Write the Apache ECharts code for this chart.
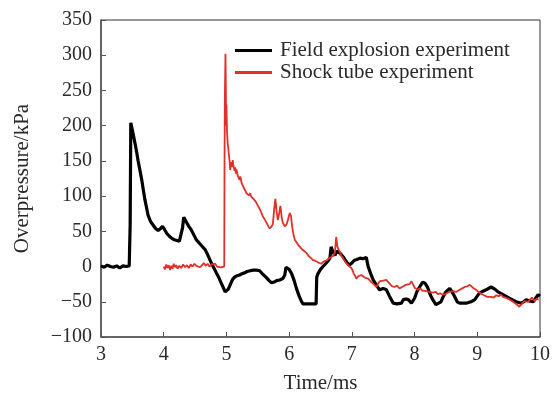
<!DOCTYPE html>
<html>
<head>
<meta charset="utf-8">
<script src="https://cdn.jsdelivr.net/npm/echarts@6/dist/echarts.min.js"></script>
<style>
  html, body { margin: 0; padding: 0; background: #fff; }
  #chart { width: 555px; height: 394px; }
</style>
</head>
<body>
<div id="chart"></div>
<script>
// Overpressure histories: [time in ms, overpressure in kPa]
const seriesNames = ['Field explosion experiment', 'Shock tube experiment'];

const fieldExplosion = [
  [3.00,1],[3.05,-1],[3.10,2],[3.15,0],[3.20,-1],[3.25,1],[3.30,-2],[3.35,1],[3.40,0],[3.45,1],
  [3.465,60],[3.475,204],[3.49,198],[3.52,185],[3.54,176],[3.57,162],[3.59,151],[3.62,137],[3.65,123],
  [3.68,106],[3.70,95],[3.73,82],[3.75,73],[3.79,64],[3.83,59],[3.87,54],[3.91,51],[3.95,54],[3.98,57],
  [4.01,53],[4.05,47],[4.09,43],[4.13,40],[4.17,38],[4.21,37],[4.25,36],[4.28,35],[4.30,55],[4.32,70],
  [4.35,65],[4.40,57],[4.44,52],[4.48,45],[4.52,38],[4.55,35],[4.59,31],[4.63,27],[4.66,24],[4.70,17],
  [4.73,11],[4.76,5],[4.80,-2],[4.84,-9],[4.87,-14],[4.91,-22],[4.95,-30],[4.98,-36],[5.00,-37],
  [5.03,-32],[5.07,-24],[5.10,-18],[5.13,-15],[5.17,-13],[5.21,-12],[5.25,-10],[5.29,-9],[5.33,-7],
  [5.38,-6],[5.43,-5],[5.48,-5],[5.53,-6],[5.58,-11],[5.63,-15],[5.68,-20],[5.72,-23],[5.76,-22],
  [5.80,-20],[5.85,-19],[5.90,-17],[5.93,-12],[5.95,-1],[5.97,0],[6.00,-4],[6.04,-10],[6.08,-20],
  [6.12,-32],[6.16,-42],[6.20,-50],[6.22,-53],[6.30,-53],[6.36,-53],[6.43,-53],[6.44,-15],[6.46,-10],
  [6.50,-4],[6.54,0],[6.58,4],[6.62,8],[6.65,12],[6.67,28],[6.70,20],[6.73,16],[6.76,22],[6.78,24],
  [6.81,19],[6.86,14],[6.91,7],[6.96,2],[7.00,5],[7.04,9],[7.08,10],[7.13,12],[7.18,11],[7.23,13],
  [7.26,0],[7.30,-10],[7.34,-19],[7.39,-26],[7.44,-33],[7.50,-31],[7.55,-33],[7.60,-42],[7.66,-52],
  [7.72,-53],[7.79,-52],[7.82,-47],[7.86,-46],[7.90,-47],[7.95,-52],[8.00,-45],[8.04,-35],[8.08,-29],
  [8.13,-22],[8.17,-24],[8.21,-30],[8.25,-40],[8.29,-47],[8.34,-54],[8.42,-50],[8.46,-42],[8.50,-36],
  [8.56,-31],[8.60,-36],[8.64,-43],[8.68,-50],[8.72,-52],[8.82,-52],[8.90,-50],[8.96,-47],[9.03,-38],
  [9.09,-35],[9.14,-33],[9.22,-29],[9.28,-32],[9.33,-36],[9.41,-40],[9.51,-45],[9.58,-48],[9.62,-50],
  [9.70,-52],[9.74,-50],[9.78,-47],[9.84,-49],[9.89,-50],[9.93,-45],[9.97,-40],[10.0,-42]
];

const shockTube = [
  [4.00,0],[4.02,-4],[4.04,3],[4.06,-2],[4.08,2],[4.10,-5],[4.12,1],[4.14,-3],[4.16,4],[4.18,-1],
  [4.20,2],[4.22,-3],[4.25,1],[4.28,-2],[4.31,3],[4.34,-1],[4.37,2],[4.40,-2],[4.43,3],[4.46,0],
  [4.49,4],[4.52,1],[4.55,3],[4.58,-1],[4.61,2],[4.64,5],[4.67,1],[4.70,4],[4.73,0],[4.76,3],
  [4.79,1],[4.82,4],[4.85,0],[4.88,2],[4.91,-1],[4.94,1],[4.965,0],[4.97,150],[4.975,240],[4.985,302],
  [4.99,260],[4.995,200],[5.00,230],[5.01,190],[5.02,175],[5.03,168],[5.04,158],[5.05,150],[5.06,137],
  [5.07,145],[5.08,148],[5.09,141],[5.10,151],[5.11,144],[5.12,140],[5.13,136],[5.14,141],[5.15,132],
  [5.16,138],[5.17,136],[5.18,129],[5.19,127],[5.20,131],[5.21,123],[5.22,128],[5.23,125],[5.24,119],
  [5.25,117],[5.26,120],[5.27,113],[5.29,111],[5.30,108],[5.31,110],[5.32,104],[5.34,106],[5.35,102],
  [5.36,101],[5.38,104],[5.39,100],[5.40,99],[5.42,98],[5.43,96],[5.45,95],[5.46,93],[5.47,94],
  [5.48,90],[5.50,88],[5.51,85],[5.53,83],[5.54,80],[5.55,79],[5.56,76],[5.57,75],[5.58,71],[5.60,70],
  [5.61,67],[5.63,65],[5.64,62],[5.65,61],[5.67,57],[5.68,58],[5.69,54],[5.71,56],[5.72,57],[5.73,55],
  [5.74,60],[5.76,80],[5.78,96],[5.79,88],[5.80,78],[5.82,66],[5.84,75],[5.86,86],[5.87,80],[5.88,70],
  [5.90,62],[5.91,64],[5.93,57],[5.94,59],[5.96,60],[5.98,66],[5.99,68],[6.01,76],[6.03,72],[6.04,63],
  [6.05,56],[6.06,50],[6.07,45],[6.09,38],[6.10,40],[6.12,34],[6.14,33],[6.15,30],[6.17,28],[6.18,29],
  [6.20,25],[6.22,26],[6.24,22],[6.26,21],[6.28,19],[6.30,18],[6.31,15],[6.33,14],[6.35,12],[6.37,13],
  [6.38,9],[6.40,10],[6.42,8],[6.44,9],[6.46,6],[6.49,7],[6.51,4],[6.53,5],[6.55,7],[6.57,8],[6.60,9],
  [6.62,11],[6.64,12],[6.67,14],[6.70,15],[6.73,20],[6.75,42],[6.77,28],[6.79,30],[6.81,20],[6.83,16],
  [6.85,14],[6.87,10],[6.89,8],[6.91,5],[6.93,6],[6.95,1],[6.97,2],[6.99,-2],[7.01,-5],[7.03,-10],
  [7.05,-13],[7.07,-17],[7.10,-14],[7.12,-15],[7.15,-12],[7.18,-14],[7.21,-16],[7.23,-18],[7.26,-17],
  [7.28,-19],[7.31,-22],[7.33,-24],[7.36,-26],[7.39,-29],[7.42,-24],[7.44,-21],[7.47,-22],[7.50,-20],
  [7.53,-21],[7.55,-19],[7.58,-22],[7.60,-24],[7.64,-28],[7.68,-29],[7.72,-27],[7.76,-31],[7.79,-29],
  [7.82,-28],[7.86,-26],[7.89,-24],[7.92,-25],[7.95,-21],[7.98,-26],[8.00,-30],[8.03,-31],[8.05,-33],
  [8.09,-31],[8.12,-34],[8.15,-33],[8.18,-35],[8.21,-34],[8.24,-36],[8.27,-35],[8.30,-37],[8.34,-36],
  [8.37,-39],[8.41,-38],[8.45,-40],[8.49,-39],[8.52,-38],[8.55,-36],[8.58,-37],[8.62,-35],[8.66,-36],
  [8.69,-34],[8.72,-33],[8.76,-31],[8.80,-29],[8.84,-28],[8.88,-26],[8.91,-28],[8.93,-30],[8.96,-31],
  [8.98,-33],[9.02,-36],[9.05,-38],[9.09,-40],[9.12,-42],[9.16,-43],[9.19,-45],[9.22,-43],[9.26,-44],
  [9.30,-41],[9.34,-42],[9.38,-40],[9.41,-43],[9.45,-44],[9.48,-46],[9.52,-47],[9.57,-50],[9.60,-52],
  [9.63,-54],[9.67,-57],[9.70,-54],[9.72,-52],[9.75,-49],[9.78,-47],[9.81,-50],[9.84,-48],[9.87,-44],
  [9.89,-45],[9.92,-49],[9.94,-46],[9.96,-44],[9.98,-47]
];

// Axis ranges and tick spacing
const xRange = [3, 10, 1];
const yRange = [-100, 350, 50];

const fontFamily = '"Liberation Serif", "DejaVu Serif", serif';
const textColor = '#2a2a2a';
const axisColor = '#555';

const chart = echarts.init(document.getElementById('chart'), null, { renderer: 'canvas' });

chart.setOption({
  animation: false,
  backgroundColor: '#fff',
  grid: {
    left: 101, right: 15, top: 20, bottom: 57,
    containLabel: false, outerBoundsMode: 'none',
    show: true, borderColor: '#333', borderWidth: 1, backgroundColor: 'transparent'
  },
  legend: {
    orient: 'vertical',
    left: 235, top: 40, padding: 0,
    itemWidth: 37, itemHeight: 3, itemGap: 1,
    icon: 'rect',
    textStyle: { fontFamily, fontSize: 21, color: textColor, lineHeight: 21, padding: [0, 0, 0, 3] },
    data: seriesNames
  },
  xAxis: {
    type: 'value',
    min: xRange[0], max: xRange[1], interval: xRange[2],
    name: 'Time/ms', nameLocation: 'middle', nameGap: 36,
    nameTextStyle: { fontFamily, fontSize: 21, color: textColor },
    axisLine: { show: true, onZero: false, lineStyle: { color: axisColor, width: 1.5 } },
    axisTick: { show: true, inside: true, length: 5, lineStyle: { color: axisColor, width: 1 } },
    axisLabel: { fontFamily, fontSize: 20, color: textColor, margin: 8 },
    splitLine: { show: false }
  },
  yAxis: {
    type: 'value',
    min: yRange[0], max: yRange[1], interval: yRange[2],
    name: 'Overpressure/kPa', nameLocation: 'middle', nameGap: 68, nameRotate: 90,
    nameTextStyle: { fontFamily, fontSize: 21, color: textColor },
    axisLine: { show: true, onZero: false, lineStyle: { color: axisColor, width: 1.5 } },
    axisTick: { show: true, inside: true, length: 5, lineStyle: { color: axisColor, width: 1 } },
    axisLabel: {
      fontFamily, fontSize: 20, color: textColor, margin: 9,
      formatter: v => String(v).replace('-', '\u2212')
    },
    splitLine: { show: false }
  },
  series: [
    {
      name: seriesNames[0], type: 'line', data: fieldExplosion,
      showSymbol: false, symbol: 'none',
      lineStyle: { color: '#000', width: 3.2 }, itemStyle: { color: '#000' },
      z: 2
    },
    {
      name: seriesNames[1], type: 'line', data: shockTube,
      showSymbol: false, symbol: 'none',
      lineStyle: { color: '#e0302b', width: 1.8 }, itemStyle: { color: '#e0302b' },
      z: 3
    }
  ]
});
</script>
</body>
</html>
